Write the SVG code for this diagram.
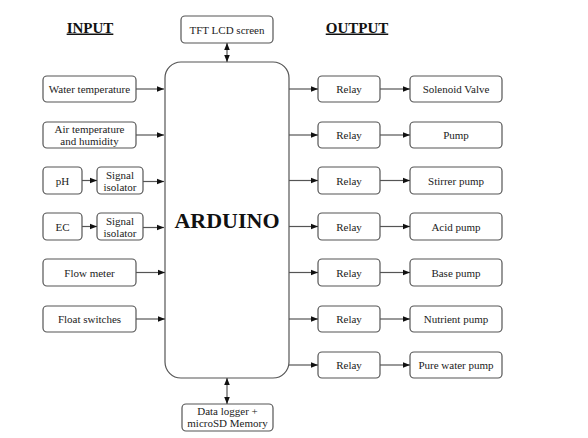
<svg xmlns="http://www.w3.org/2000/svg" width="588" height="438" viewBox="0 0 588 438">
<style>
.b{fill:#fff;stroke:#555;stroke-width:1.2}
text{font-family:'Liberation Serif','Times New Roman',serif}
.t{font-size:11px;fill:#222;text-anchor:middle}
.h{font-size:15px;font-weight:bold;fill:#111;text-anchor:middle;text-decoration:underline}
.c{stroke:#555;stroke-width:1.2;fill:none;marker-end:url(#a)}
.d{stroke:#555;stroke-width:1.2;fill:none;marker-end:url(#a);marker-start:url(#s)}
</style>
<defs>
<marker id="a" viewBox="0 0 10 10" refX="10" refY="5" markerWidth="7" markerHeight="7" markerUnits="userSpaceOnUse" orient="auto"><path d="M0,1 L10,5 L0,9 z" fill="#111"/></marker>
<marker id="s" viewBox="0 0 10 10" refX="0" refY="5" markerWidth="7" markerHeight="7" markerUnits="userSpaceOnUse" orient="auto"><path d="M10,1 L0,5 L10,9 z" fill="#111"/></marker>
</defs>
<rect width="588" height="438" fill="#fff"/>
<text class="h" x="90" y="32.5">INPUT</text>
<text class="h" x="357" y="32.5">OUTPUT</text>
<g id="arduino"><rect class="b" x="165" y="62" width="124" height="316" rx="16"/><text x="227" y="228" font-size="22" font-weight="bold" text-anchor="middle" fill="#111">ARDUINO</text></g>
<g id="tft"><rect class="b" x="181" y="16" width="92" height="27" rx="4"/><text class="t" x="227" y="33.5">TFT LCD screen</text></g>
<g id="logger"><rect class="b" x="182" y="404" width="91" height="27" rx="4"/><text class="t" x="227.5" y="415">Data logger +</text><text class="t" x="227.5" y="427">microSD Memory</text></g>
<g id="water"><rect class="b" x="43" y="76" width="93" height="26" rx="4"/><text class="t" x="89.5" y="93">Water temperature</text></g>
<g id="air"><rect class="b" x="43" y="122" width="93" height="26" rx="4"/><text class="t" x="89.5" y="133">Air temperature</text><text class="t" x="89.5" y="145">and humidity</text></g>
<g id="ph"><rect class="b" x="43" y="167" width="39" height="27" rx="4"/><text class="t" x="62.5" y="184.5">pH</text></g>
<g id="iso1"><rect class="b" x="97" y="167" width="46" height="27" rx="4"/><text class="t" x="120" y="178.5">Signal</text><text class="t" x="120" y="190.5">isolator</text></g>
<g id="ec"><rect class="b" x="43" y="213" width="39" height="27" rx="4"/><text class="t" x="62.5" y="230.5">EC</text></g>
<g id="iso2"><rect class="b" x="97" y="213" width="46" height="27" rx="4"/><text class="t" x="120" y="224.5">Signal</text><text class="t" x="120" y="236.5">isolator</text></g>
<g id="flow"><rect class="b" x="43" y="259" width="93" height="27" rx="4"/><text class="t" x="89.5" y="276.5">Flow meter</text></g>
<g id="float"><rect class="b" x="43" y="306" width="93" height="26" rx="4"/><text class="t" x="89.5" y="323">Float switches</text></g>
<g id="relay1"><rect class="b" x="318" y="76" width="62" height="26" rx="4"/><text class="t" x="349" y="93">Relay</text></g>
<g id="relay2"><rect class="b" x="318" y="122" width="62" height="26" rx="4"/><text class="t" x="349" y="139">Relay</text></g>
<g id="relay3"><rect class="b" x="318" y="167" width="62" height="27" rx="4"/><text class="t" x="349" y="184.5">Relay</text></g>
<g id="relay4"><rect class="b" x="318" y="213" width="62" height="27" rx="4"/><text class="t" x="349" y="230.5">Relay</text></g>
<g id="relay5"><rect class="b" x="318" y="259" width="62" height="27" rx="4"/><text class="t" x="349" y="276.5">Relay</text></g>
<g id="relay6"><rect class="b" x="318" y="306" width="62" height="26" rx="4"/><text class="t" x="349" y="323">Relay</text></g>
<g id="relay7"><rect class="b" x="318" y="352" width="62" height="26" rx="4"/><text class="t" x="349" y="369">Relay</text></g>
<g id="solenoid"><rect class="b" x="410" y="76" width="92" height="26" rx="4"/><text class="t" x="456" y="93">Solenoid Valve</text></g>
<g id="pump"><rect class="b" x="410" y="122" width="92" height="26" rx="4"/><text class="t" x="456" y="139">Pump</text></g>
<g id="stirrer"><rect class="b" x="410" y="167" width="92" height="27" rx="4"/><text class="t" x="456" y="184.5">Stirrer pump</text></g>
<g id="acid"><rect class="b" x="410" y="213" width="92" height="27" rx="4"/><text class="t" x="456" y="230.5">Acid pump</text></g>
<g id="base"><rect class="b" x="410" y="259" width="92" height="27" rx="4"/><text class="t" x="456" y="276.5">Base pump</text></g>
<g id="nutrient"><rect class="b" x="410" y="306" width="92" height="26" rx="4"/><text class="t" x="456" y="323">Nutrient pump</text></g>
<g id="purewater"><rect class="b" x="410" y="352" width="92" height="26" rx="4"/><text class="t" x="456" y="369">Pure water pump</text></g>
<g id="connectors">
<path class="d" d="M227,43 V62"/>
<path class="d" d="M227,378 V404"/>
<path class="c" d="M136,89 H164"/>
<path class="c" d="M136,135 H164"/>
<path class="c" d="M82,180.5 H97"/>
<path class="c" d="M143,181.5 H164"/>
<path class="c" d="M82,226.5 H97"/>
<path class="c" d="M143,227.5 H164"/>
<path class="c" d="M136,272.5 H165"/>
<path class="c" d="M136,319 H165"/>
<path class="c" d="M289,89 H318"/>
<path class="c" d="M289,135 H318"/>
<path class="c" d="M289,180.5 H318"/>
<path class="c" d="M289,226.5 H318"/>
<path class="c" d="M289,272.5 H318"/>
<path class="c" d="M289,319 H318"/>
<path class="c" d="M289,365 H318"/>
<path class="c" d="M380,89 H410"/>
<path class="c" d="M380,135 H410"/>
<path class="c" d="M380,180.5 H410"/>
<path class="c" d="M380,226.5 H410"/>
<path class="c" d="M380,272.5 H410"/>
<path class="c" d="M380,319 H410"/>
<path class="c" d="M380,365 H410"/>
</g>
</svg>
